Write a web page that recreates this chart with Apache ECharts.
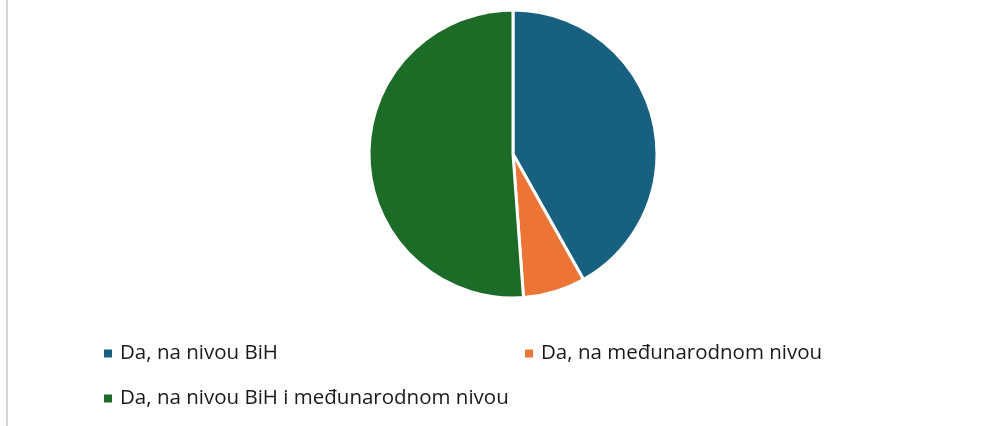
<!DOCTYPE html>
<html>
<head>
<meta charset="utf-8">
<script src="https://cdn.jsdelivr.net/npm/echarts@6/dist/echarts.min.js"></script>
<style>
    html, body { margin: 0; padding: 0; background: #fff; }
    #chart { width: 1006px; height: 426px; }
</style>
</head>
<body>
<div id="chart"></div>
<script>
    // categories and values
    const categories = ["Da, na nivou BiH", "Da, na međunarodnom nivou", "Da, na nivou BiH i međunarodnom nivou"];
    const values = [18, 3, 22];
    const colors = ["#17607f", "#ec7535", "#1c6b26"];

    const FONT = "'Open Sans', 'Noto Sans', sans-serif";

    // one legend per slot, positioned like the original layout
    const legendSlots = [
        {left: 97, top: 338},
        {left: 518, top: 338},
        {left: 97, top: 383}
    ];

    const chart = echarts.init(document.getElementById("chart"));

    const legends = categories.map((name, i) => ({
        data: [name],
        left: legendSlots[i].left,
        top: legendSlots[i].top,
        icon: "rect",
        itemWidth: 10,
        itemHeight: 10,
        itemGap: 8,
        selectedMode: false,
        textStyle: {fontFamily: FONT, fontSize: 20.5, color: "#1a1a1a", padding: [0, 0, 0, 2]}
    }));

    chart.setOption({
        animation: false,
        color: colors,
        legend: legends,
        graphic: [{
            type: "line",
            shape: {x1: 7, y1: 0, x2: 7, y2: 426},
            style: {stroke: "#d6d6d6", lineWidth: 2}
        }],
        series: [{
            type: "pie",
            center: [513, 154],
            radius: 144,
            startAngle: 90,
            clockwise: true,
            label: {show: false},
            labelLine: {show: false},
            emphasis: {disabled: true},
            itemStyle: {borderColor: "#ffffff", borderWidth: 3},
            data: categories.map((name, i) => ({name: name, value: values[i]}))
        }]
    });
</script>
</body>
</html>
